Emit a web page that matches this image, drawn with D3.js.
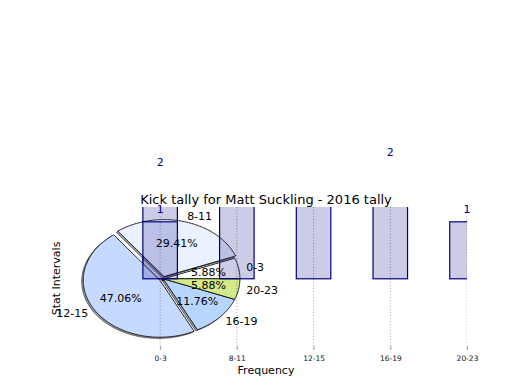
<!DOCTYPE html>
<html><head><meta charset="utf-8">
<script src="https://cdn.jsdelivr.net/npm/d3@7"></script>
<style>body{margin:0;background:#fff} svg text{font-family:"DejaVu Sans",sans-serif}</style>
</head><body><svg id="chart" width="520" height="390"></svg>
<script>
// ---- data ----
const categories = ["0-3", "8-11", "12-15", "16-19", "20-23"];
const tally = [1, 5, 8, 2, 1];
const underBarCategories = ["0-3"];
const underBarValues = [2];
const pieExplode = [0, 0.04, 0.05, 0, 0];
const pieColors = ["#ffffff", "#eaf2ff", "#c6d9ff", "#b7d6fe", "#d2ea8a"];
const titleText = "Kick tally for Matt Suckling - 2016 tally";
const xLabelText = "Frequency";
const yLabelText = "Stat Intervals";

// ---- layout ----
const svg = d3.select("#chart");
const plot = {left: 65, right: 467, top: 207, bottom: 350};
const x = d3.scaleLinear().domain([-1.24, 4]).range([plot.left, plot.right]);
const y = d3.scaleLinear().domain([-1.25, 1.26]).range([plot.bottom, plot.top]);
const barWidth = 0.45;
const pieCenter = [0.04, 0];
const navy = "#000080";

svg.append("defs").append("clipPath").attr("id", "axclip")
  .append("rect").attr("x", plot.left).attr("y", plot.top)
  .attr("width", plot.right - plot.left).attr("height", plot.bottom - plot.top);

const g = svg.append("g").attr("clip-path", "url(#axclip)");

function drawBars(layer, cats, vals) {
  layer.selectAll("rect").data(vals).join("rect")
    .attr("x", (d, i) => x(categories.indexOf(cats[i]) - barWidth / 2))
    .attr("width", (d, i) => x(barWidth) - x(0))
    .attr("y", d => y(d))
    .attr("height", d => y(0) - y(d))
    .attr("fill", navy).attr("fill-opacity", 0.2)
    .attr("stroke", navy).attr("stroke-width", 1.2);
}

// bar under the pie
drawBars(g.append("g"), underBarCategories, underBarValues);

// ---- pie ----
const total = d3.sum(tally);
const arcs = d3.pie().sort(null).value(d => d)(tally);
function wedgePoints(a, i, off) {
  const mid = (a.startAngle + a.endAngle) / 2;
  const cx = pieCenter[0] + pieExplode[i] * Math.cos(mid) + off;
  const cy = pieCenter[1] + pieExplode[i] * Math.sin(mid) + off;
  const pts = [[cx, cy]];
  const n = Math.max(8, Math.ceil((a.endAngle - a.startAngle) / 0.02));
  for (let k = 0; k <= n; k++) {
    const t = a.startAngle + (a.endAngle - a.startAngle) * k / n;
    pts.push([cx + Math.cos(t), cy + Math.sin(t)]);
  }
  return pts;
}
const line = d3.line().x(p => x(p[0])).y(p => y(p[1]));
const pieG = g.append("g");
pieG.selectAll("path.shadow").data(arcs).join("path").attr("class", "shadow")
  .attr("d", (a, i) => line(wedgePoints(a, i, -0.02)) + "Z")
  .attr("fill", (a, i) => { const c = d3.rgb(pieColors[i]); return d3.rgb(c.r * 0.3, c.g * 0.3, c.b * 0.3); })
  .attr("fill-opacity", 0.5).attr("stroke", "#000").attr("stroke-opacity", 0.5).attr("stroke-width", 1);
pieG.selectAll("path.wedge").data(arcs).join("path").attr("class", "wedge")
  .attr("d", (a, i) => line(wedgePoints(a, i, 0)) + "Z")
  .attr("fill", (a, i) => pieColors[i])
  .attr("stroke", "#111").attr("stroke-width", 0.9).attr("stroke-linejoin", "round");

// main bars on top of pie
drawBars(g.append("g"), categories, tally);

// grid lines
g.append("g").selectAll("line").data(categories).join("line")
  .attr("x1", (d, i) => x(i)).attr("x2", (d, i) => x(i))
  .attr("y1", plot.top).attr("y2", plot.bottom)
  .attr("stroke", "#000").attr("stroke-opacity", 0.32).attr("stroke-width", 1)
  .attr("stroke-dasharray", "1.2,1.8");

// x axis (ticks inside, no spine)
const axis = d3.axisBottom(x).tickValues(d3.range(categories.length))
  .tickFormat(i => categories[i]).tickSize(-4).tickPadding(5.7);
const ax = svg.append("g").attr("transform", `translate(0,${plot.bottom})`).call(axis);
ax.select(".domain").remove();
ax.selectAll(".tick line").attr("stroke", "#aaa").attr("stroke-width", 1);
ax.selectAll(".tick text").attr("font-size", 7.5).attr("fill", "#111")
  .style("font-family", '"DejaVu Sans",sans-serif');

// bar value labels (labels that fall above the canvas are not shown, as in the original)
const labels = svg.append("g").attr("font-size", 11).attr("fill", navy).attr("text-anchor", "middle");
const mainLabels = tally.map((v, i) => ({v, i})).filter(d => y(d.v + 0.22) > 0);
labels.selectAll("text.main").data(mainLabels).join("text").attr("class", "main")
  .attr("x", d => x(d.i)).attr("y", d => y(d.v + 0.22))
  .attr("dominant-baseline", "central").text(d => d.v);
labels.selectAll("text.under").data(underBarValues).join("text").attr("class", "under")
  .attr("x", (d, i) => x(categories.indexOf(underBarCategories[i]))).attr("y", d => y(d + 0.04))
  .attr("dominant-baseline", "central").text(d => d);

// pie texts
const pieText = svg.append("g").attr("font-size", 11).attr("fill", "#000");
arcs.forEach((a, i) => {
  const mid = (a.startAngle + a.endAngle) / 2;
  const cx = pieCenter[0] + pieExplode[i] * Math.cos(mid);
  const cy = pieCenter[1] + pieExplode[i] * Math.sin(mid);
  const lx = cx + 1.1 * Math.cos(mid), ly = cy + 1.1 * Math.sin(mid);
  pieText.append("text").attr("x", x(lx)).attr("y", y(ly))
    .attr("text-anchor", lx - pieCenter[0] > 0 ? "start" : "end")
    .attr("dominant-baseline", "central").text(categories[i]);
  const px = cx + 0.6 * Math.cos(mid), py = cy + 0.6 * Math.sin(mid);
  pieText.append("text").attr("x", x(px)).attr("y", y(py))
    .attr("text-anchor", "middle").attr("dominant-baseline", "central")
    .text((100 * a.data / total).toFixed(2) + "%");
});

// title and axis labels
svg.append("text").attr("x", (plot.left + plot.right) / 2).attr("y", 204)
  .attr("text-anchor", "middle").attr("font-size", 13).attr("fill", "#000").text(titleText);
svg.append("text").attr("x", (plot.left + plot.right) / 2).attr("y", 374)
  .attr("text-anchor", "middle").attr("font-size", 11).attr("fill", "#000").text(xLabelText);
svg.append("text").attr("transform", `translate(59.5,${(plot.top + plot.bottom) / 2}) rotate(-90)`)
  .attr("text-anchor", "middle").attr("font-size", 11).attr("fill", "#000").text(yLabelText);
</script></body></html>
